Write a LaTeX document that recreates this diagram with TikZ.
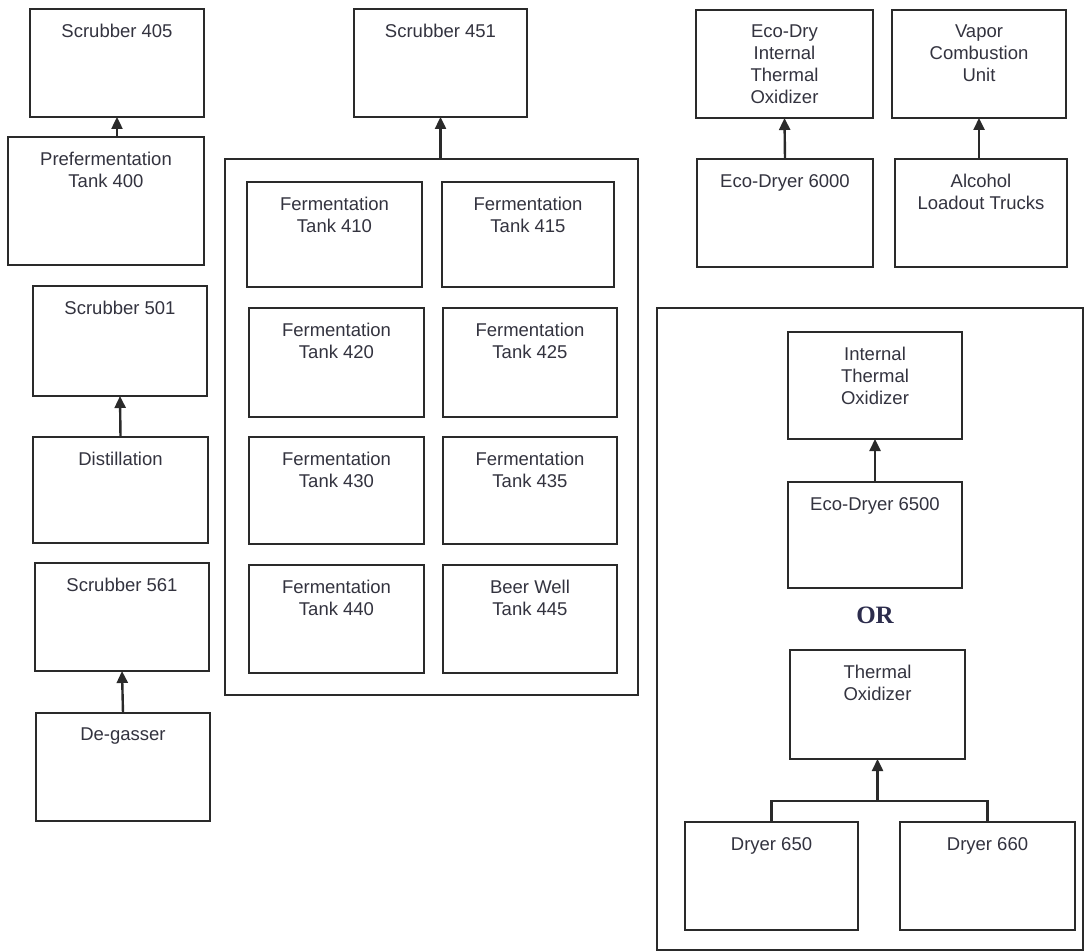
\documentclass[tikz,border=0pt]{standalone}
\usepackage{fontspec}
\setmainfont{Liberation Sans}
\newfontfamily\orfont{Liberation Serif}
\usetikzlibrary{arrows.meta}
\definecolor{ink}{HTML}{2A2A2A}
\definecolor{txt}{HTML}{33333F}
\definecolor{ortxt}{HTML}{2C2C4C}
\tikzset{
  boxst/.style={draw=ink, line width=2.6pt, inner sep=0pt, outer sep=0pt},
  lbl/.style={anchor=north, inner sep=0pt, align=center, text=txt, font=\fontsize{18.5}{22}\selectfont},
  arr/.style={draw=ink, line width=2.4pt, -{Triangle[width=11pt,length=12pt]}},
  ln/.style={draw=ink, line width=2.4pt}
}
% name, x1, y1, x2, y2, text
\newcommand\Bx[6]{%
  \node[boxst, minimum width=#4pt-#2pt, minimum height=#5pt-#3pt] (#1) at ({(#2+#4)/2},{(#3+#5)/2}) {};
  \node[lbl] (#1-t) at ([yshift=-15pt]#1.north) {#6};
}
\begin{document}
\begin{tikzpicture}[x=1pt, y=-1pt]
\useasboundingbox[fill=white] (0,0) rectangle (1086,952);
% left column
\Bx{s405}{30}{9}{204}{117}{Scrubber 405}
\Bx{pref}{8}{137}{204}{265}{Prefermentation\\Tank 400}
\Bx{s501}{33}{286}{207}{396}{Scrubber 501}
\Bx{dist}{33}{437}{208}{543}{Distillation}
\Bx{s561}{35}{563}{209}{671}{Scrubber 561}
\Bx{degas}{36}{713}{210}{821}{De-gasser}
% middle column
\Bx{s451}{354}{9}{527}{117}{Scrubber 451}
\Bx{ferm}{225}{159}{638}{695}{}
\Bx{f410}{247}{182}{422}{287}{Fermentation\\Tank 410}
\Bx{f415}{442}{182}{614}{287}{Fermentation\\Tank 415}
\Bx{f420}{249}{308}{424}{417}{Fermentation\\Tank 420}
\Bx{f425}{443}{308}{617}{417}{Fermentation\\Tank 425}
\Bx{f430}{249}{437}{424}{544}{Fermentation\\Tank 430}
\Bx{f435}{443}{437}{617}{544}{Fermentation\\Tank 435}
\Bx{f440}{249}{565}{424}{673}{Fermentation\\Tank 440}
\Bx{f445}{443}{565}{617}{673}{Beer Well\\Tank 445}
% right top
\Bx{ecoito}{696}{10}{873}{118}{Eco-Dry\\Internal\\Thermal\\Oxidizer}
\Bx{vcu}{892}{10}{1066}{118}{Vapor\\Combustion\\Unit}
\Bx{ed6000}{697}{159}{873}{267}{Eco-Dryer 6000}
\Bx{alc}{895}{159}{1067}{267}{Alcohol\\Loadout Trucks}
% right container
\Bx{rcont}{657}{308}{1083}{950}{}
\Bx{ito}{788}{332}{962}{439}{Internal\\Thermal\\Oxidizer}
\Bx{ed6500}{788}{482}{962}{588}{Eco-Dryer 6500}
\node[text=ortxt, font=\orfont\bfseries\fontsize{25}{28}\selectfont, inner sep=0pt] (or) at (875,615) {OR};
\Bx{to}{790}{650}{965}{759}{Thermal\\Oxidizer}
\Bx{d650}{685}{822}{858}{930}{Dryer 650}
\Bx{d660}{900}{822}{1075}{930}{Dryer 660}
% connectors
\draw[arr] (s405.south |- pref.north) -- (s405.south);
\draw[arr] (dist.north) -- (s501.south);
\draw[arr] (degas.north) -- (s561.south);
\draw[arr] (s451.south |- ferm.north) -- (s451.south);
\draw[arr] (ed6000.north) -- (ecoito.south);
\draw[arr] (vcu.south |- alc.north) -- (vcu.south);
\draw[arr] (ed6500.north) -- (ito.south);
\coordinate (jn) at (to.south |- 0,801);
\draw[ln] (d650.north) |- (jn) -| (d660.north);
\draw[arr] (jn) -- (to.south);
\end{tikzpicture}
\end{document}
